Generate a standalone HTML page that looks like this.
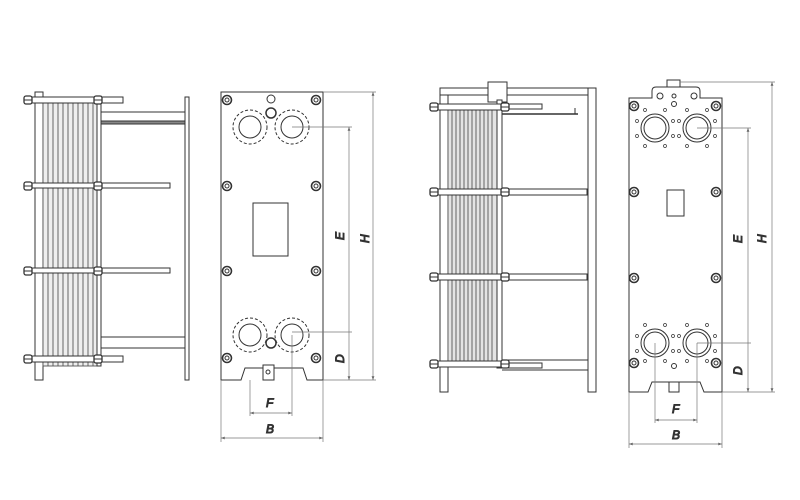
<!DOCTYPE html>
<html><head><meta charset="utf-8"><style>
html,body{margin:0;padding:0;background:#fff;width:800px;height:500px;overflow:hidden}
svg{display:block}
text{font-family:"Liberation Sans",sans-serif;font-style:italic;font-size:12px;fill:#333}
</style></head><body>
<svg width="800" height="500" viewBox="0 0 800 500" fill="none" stroke="#333" stroke-width="1">
<defs>
<g id="nut"><circle r="4.5" fill="#fff" stroke-width="1.6"/><circle r="2" /></g>
<g id="hb"><rect x="-4" y="-4" width="8" height="8" rx="2" fill="#fff" stroke-width="1.3"/><line x1="-4" y1="0" x2="4" y2="0"/></g>
<marker id="ar" viewBox="0 0 8 6" refX="8" refY="3" markerWidth="6" markerHeight="4" orient="auto-start-reverse"><path d="M0 0 L8 3 L0 6 Z" fill="#666" stroke="none"/></marker>
</defs>

<!-- ===== Drawing 1 side view ===== -->
<rect x="35" y="92" width="8" height="288" fill="#fff"/>
<g stroke="#555" stroke-width="0.9">
<rect x="43" y="102" width="54" height="264" fill="#eee"/>
<line x1="48" y1="102" x2="48" y2="366"/><line x1="53" y1="102" x2="53" y2="366"/><line x1="58" y1="102" x2="58" y2="366"/><line x1="63" y1="102" x2="63" y2="366"/><line x1="68" y1="102" x2="68" y2="366"/><line x1="73" y1="102" x2="73" y2="366"/><line x1="78" y1="102" x2="78" y2="366"/><line x1="83" y1="102" x2="83" y2="366"/><line x1="88" y1="102" x2="88" y2="366"/><line x1="93" y1="102" x2="93" y2="366"/>
</g>
<rect x="97" y="96" width="4" height="270" fill="#fff"/>
<rect x="185" y="97" width="4" height="283" fill="#fff"/>
<line x1="101" y1="112" x2="185" y2="112"/><rect x="101" y="121" width="84" height="3" fill="#888"/>
<line x1="101" y1="337" x2="185" y2="337"/><line x1="101" y1="348" x2="185" y2="348"/>
<g fill="#fff">
<rect x="30" y="97" width="93" height="6"/><rect x="30" y="356" width="93" height="6"/>
<rect x="30" y="183" width="140" height="5"/><rect x="30" y="268" width="140" height="5"/>
</g>
<use href="#hb" x="28" y="100"/><use href="#hb" x="98" y="100"/>
<use href="#hb" x="28" y="186"/><use href="#hb" x="98" y="186"/>
<use href="#hb" x="28" y="271"/><use href="#hb" x="98" y="271"/>
<use href="#hb" x="28" y="359"/><use href="#hb" x="98" y="359"/>

<!-- ===== Drawing 1 front view ===== -->
<path d="M221 92 H323 V380 H307 L303 368 H245 L241 380 H221 Z" fill="#fff"/>
<rect x="263" y="365" width="11" height="15" fill="#fff"/><circle cx="268" cy="372" r="2"/>
<circle cx="271" cy="99" r="4"/><circle cx="271" cy="113" r="5" stroke-width="1.5"/><circle cx="271" cy="343" r="5" stroke-width="1.5"/>
<g stroke-dasharray="3,2">
<circle cx="250" cy="127" r="17"/><circle cx="292" cy="127" r="17"/>
<circle cx="250" cy="335" r="17"/><circle cx="292" cy="335" r="17"/>
</g>
<circle cx="250" cy="127" r="11"/><circle cx="292" cy="127" r="11"/>
<circle cx="250" cy="335" r="11"/><circle cx="292" cy="335" r="11"/>
<use href="#nut" x="227" y="100"/><use href="#nut" x="316" y="100"/>
<use href="#nut" x="227" y="186"/><use href="#nut" x="316" y="186"/>
<use href="#nut" x="227" y="271"/><use href="#nut" x="316" y="271"/>
<use href="#nut" x="227" y="358"/><use href="#nut" x="316" y="358"/>
<rect x="253" y="203" width="35" height="53"/>
<g stroke="#777" stroke-width="0.7">
<line x1="323" y1="92" x2="376" y2="92"/><line x1="323" y1="380" x2="376" y2="380"/>
<line x1="292" y1="127" x2="352" y2="127"/><line x1="292" y1="332" x2="352" y2="332"/>
<line x1="373" y1="92" x2="373" y2="380" marker-start="url(#ar)" marker-end="url(#ar)"/>
<line x1="349" y1="127" x2="349" y2="380" marker-start="url(#ar)" marker-end="url(#ar)"/>
<line x1="250" y1="380" x2="250" y2="416"/><line x1="292" y1="335" x2="292" y2="416"/>
<line x1="221" y1="380" x2="221" y2="442"/><line x1="323" y1="380" x2="323" y2="442"/>
<line x1="250" y1="413" x2="292" y2="413" marker-start="url(#ar)" marker-end="url(#ar)"/>
<line x1="221" y1="438" x2="323" y2="438" marker-start="url(#ar)" marker-end="url(#ar)"/>
</g>
<text x="333" y="237" transform="rotate(-90 340 233)">E</text>
<text x="358" y="240" transform="rotate(-90 365 236)">H</text>
<text x="333" y="360" transform="rotate(-90 340 356)">D</text>
<text x="266" y="407">F</text><text x="266" y="433">B</text>

<!-- ===== Drawing 2 side view ===== -->
<rect x="440" y="88" width="8" height="304" fill="#fff"/>
<rect x="440" y="88" width="156" height="7" fill="#fff"/>
<rect x="488" y="82" width="19" height="20" fill="#fff"/>
<g stroke="#555" stroke-width="0.9">
<rect x="448" y="105" width="49" height="260" fill="#e4e4e4"/>
<line x1="452" y1="105" x2="452" y2="365"/><line x1="456" y1="105" x2="456" y2="365"/><line x1="460" y1="105" x2="460" y2="365"/><line x1="464" y1="105" x2="464" y2="365"/><line x1="468" y1="105" x2="468" y2="365"/><line x1="472" y1="105" x2="472" y2="365"/><line x1="476" y1="105" x2="476" y2="365"/><line x1="480" y1="105" x2="480" y2="365"/><line x1="484" y1="105" x2="484" y2="365"/><line x1="488" y1="105" x2="488" y2="365"/><line x1="492" y1="105" x2="492" y2="365"/>
</g>
<rect x="497" y="100" width="5" height="268" fill="#fff"/>
<rect x="588" y="88" width="8" height="304" fill="#fff"/>
<rect x="502" y="104" width="40" height="5" fill="#fff"/><line x1="502" y1="114" x2="578" y2="114" stroke-width="1.5"/><line x1="575" y1="108" x2="575" y2="114"/>
<rect x="502" y="363" width="40" height="5" fill="#fff"/><line x1="502" y1="360" x2="588" y2="360"/><line x1="502" y1="370" x2="588" y2="370"/>
<g fill="#fff">
<rect x="435" y="104" width="68" height="6"/><rect x="435" y="361" width="68" height="6"/>
<rect x="435" y="189" width="152" height="6"/><rect x="435" y="274" width="152" height="6"/>
</g>
<use href="#hb" x="434" y="107"/><use href="#hb" x="505" y="107"/>
<use href="#hb" x="434" y="192"/><use href="#hb" x="505" y="192"/>
<use href="#hb" x="434" y="277"/><use href="#hb" x="505" y="277"/>
<use href="#hb" x="434" y="364"/><use href="#hb" x="505" y="364"/>

<!-- ===== Drawing 2 front view ===== -->
<path d="M629 98 H652 V91 Q652 87 656 87 H696 Q700 87 700 91 V98 H722 V392 H704 L700 382 H652 L648 392 H629 Z" fill="#fff"/>
<rect x="667" y="80" width="13" height="7" fill="#fff"/>
<rect x="669" y="382" width="10" height="10"/>
<circle cx="660" cy="96" r="3"/><circle cx="694" cy="96" r="3"/><circle cx="674" cy="96" r="2"/><circle cx="674" cy="104" r="2.5"/><circle cx="674" cy="366" r="2.5"/>
<circle cx="655" cy="128" r="14"/><circle cx="697" cy="128" r="14"/>
<circle cx="655" cy="128" r="11"/><circle cx="697" cy="128" r="11"/>
<circle cx="655" cy="343" r="14"/><circle cx="697" cy="343" r="14"/>
<circle cx="655" cy="343" r="11"/><circle cx="697" cy="343" r="11"/>
<g fill="#fff" stroke-width="0.7">
<circle cx="645" cy="110" r="1.5"/><circle cx="665" cy="110" r="1.5"/><circle cx="637" cy="121" r="1.5"/><circle cx="673" cy="121" r="1.5"/><circle cx="637" cy="136" r="1.5"/><circle cx="673" cy="136" r="1.5"/><circle cx="645" cy="146" r="1.5"/><circle cx="665" cy="146" r="1.5"/>
<circle cx="687" cy="110" r="1.5"/><circle cx="707" cy="110" r="1.5"/><circle cx="679" cy="121" r="1.5"/><circle cx="715" cy="121" r="1.5"/><circle cx="679" cy="136" r="1.5"/><circle cx="715" cy="136" r="1.5"/><circle cx="687" cy="146" r="1.5"/><circle cx="707" cy="146" r="1.5"/>
<circle cx="645" cy="325" r="1.5"/><circle cx="665" cy="325" r="1.5"/><circle cx="637" cy="336" r="1.5"/><circle cx="673" cy="336" r="1.5"/><circle cx="637" cy="351" r="1.5"/><circle cx="673" cy="351" r="1.5"/><circle cx="645" cy="361" r="1.5"/><circle cx="665" cy="361" r="1.5"/>
<circle cx="687" cy="325" r="1.5"/><circle cx="707" cy="325" r="1.5"/><circle cx="679" cy="336" r="1.5"/><circle cx="715" cy="336" r="1.5"/><circle cx="679" cy="351" r="1.5"/><circle cx="715" cy="351" r="1.5"/><circle cx="687" cy="361" r="1.5"/><circle cx="707" cy="361" r="1.5"/>
</g>
<use href="#nut" x="634" y="106"/><use href="#nut" x="716" y="106"/>
<use href="#nut" x="634" y="192"/><use href="#nut" x="716" y="192"/>
<use href="#nut" x="634" y="278"/><use href="#nut" x="716" y="278"/>
<use href="#nut" x="634" y="363"/><use href="#nut" x="716" y="363"/>
<rect x="667" y="190" width="17" height="26"/>
<g stroke="#777" stroke-width="0.7">
<line x1="680" y1="82" x2="775" y2="82"/><line x1="722" y1="392" x2="775" y2="392"/>
<line x1="697" y1="128" x2="751" y2="128"/><line x1="697" y1="343" x2="751" y2="343"/>
<line x1="772" y1="82" x2="772" y2="392" marker-start="url(#ar)" marker-end="url(#ar)"/>
<line x1="748" y1="128" x2="748" y2="392" marker-start="url(#ar)" marker-end="url(#ar)"/>
<line x1="655" y1="343" x2="655" y2="423"/><line x1="697" y1="343" x2="697" y2="423"/>
<line x1="629" y1="392" x2="629" y2="448"/><line x1="722" y1="392" x2="722" y2="448"/>
<line x1="655" y1="420" x2="697" y2="420" marker-start="url(#ar)" marker-end="url(#ar)"/>
<line x1="629" y1="444" x2="722" y2="444" marker-start="url(#ar)" marker-end="url(#ar)"/>
</g>
<text x="731" y="240" transform="rotate(-90 738 236)">E</text>
<text x="755" y="240" transform="rotate(-90 762 236)">H</text>
<text x="731" y="372" transform="rotate(-90 738 368)">D</text>
<text x="672" y="413">F</text><text x="672" y="439">B</text>
</svg>
</body></html>
